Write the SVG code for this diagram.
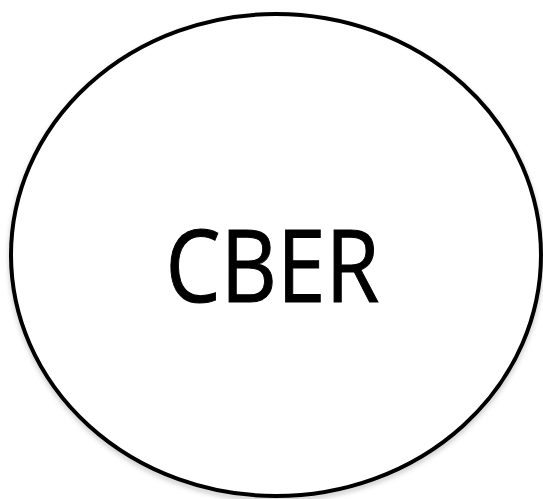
<svg xmlns="http://www.w3.org/2000/svg" width="543" height="499" viewBox="0 0 543 499">
<style>
.node{fill:#ffffff;stroke:#000000;stroke-width:4}
.shadow{fill:none;stroke:#9a9a9a;stroke-width:4;opacity:0.6}
.label{font-family:"Open Sans","Noto Sans","Liberation Sans",sans-serif;font-size:100px;fill:#000000;stroke:#000000;stroke-width:1}
</style>
<defs>
<filter id="blur" x="-10%" y="-10%" width="120%" height="120%"><feGaussianBlur stdDeviation="2.5"/></filter>
</defs>
<rect width="543" height="499" fill="#ffffff"/>
<g id="connectors"/>
<g id="cber">
<ellipse class="shadow" cx="276" cy="258" rx="265" ry="241" filter="url(#blur)"/>
<ellipse class="node" cx="276" cy="255" rx="265" ry="241"/>
<text class="label" x="272.5" y="302" text-anchor="middle" textLength="214" lengthAdjust="spacingAndGlyphs">CBER</text>
</g>
</svg>
